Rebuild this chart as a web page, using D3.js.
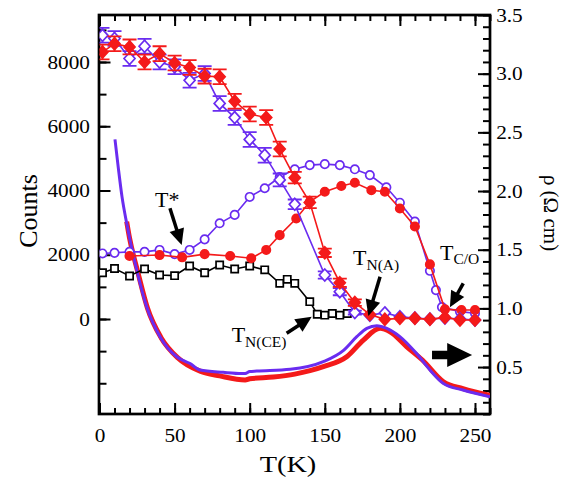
<!DOCTYPE html>
<html><head><meta charset="utf-8">
<script src="https://cdn.jsdelivr.net/npm/d3@7"></script>
<style>body{margin:0;background:#fff}svg{display:block}</style>
</head><body><svg id="c" width="574" height="480"></svg>
<script>
// ---- data ----
const tDiamondPurple=[2,10,20,30,40,50,60,70,80,90,100,110,120,130,150,160,170,180,190,200,210,220,230,240,250];
const cDiamondPurple=[8830,8730,8110,8490,8000,7850,7430,7640,6710,6270,5590,5100,4330,3570,1370,850,200,120,190,70,30,0,30,0,-30];
const eDiamondPurple=[230,230,230,230,230,230,230,230,230,230,230,230,200,150,110,110,60,0,0,0,0,0,0,0,0];

const tDiamondRed=[2,10,20,30,40,50,60,70,80,90,100,111,120,130,140,150,160,170,180,190,200,210,220,230,240,250];
const cDiamondRed=[8310,8570,8470,8000,8260,7970,7830,7560,7540,6780,6380,6270,5290,4400,3630,2060,1130,510,140,-10,20,20,-10,50,-30,-30];
const eDiamondRed=[230,230,230,230,230,230,230,230,230,230,230,230,230,180,180,130,130,100,0,0,0,0,0,0,0,0];

const tCirclePurple=[2,10,20,30,40,50,60,70,80,90,100,110,120,130,140,150,160,170,180,191,200,210,220,224,228,240,250];
const cCirclePurple=[2040,2060,2090,2090,2150,2020,2150,2480,2980,3240,3800,4070,4420,4660,4790,4820,4790,4660,4480,4100,3620,3030,1500,900,370,230,180];

const tCircleRed=[20,40,55,70,87,101,111,120,131,140,150,161,170,181,190,200,210,220,230,241,250];
const cCircleRed=[1960,1990,1920,2020,1960,1890,2150,2610,3130,3650,3960,4140,4240,4010,3960,3440,2880,1700,300,280,280];

const tSquare=[2,10,20,30,40,50,60,70,80,90,100,110,120,125,130,140,145,150,155,160,165];
const cSquare=[1440,1570,1340,1560,1370,1350,1650,1440,1680,1555,1650,1530,1110,1235,1110,540,150,120,170,120,170];

const tRhoPurple=[10.3,12.5,15,18.1,24.8,31.4,40.3,51.4,60.3,66.9,82.4,94.7,97,100,104.7,127,149,162.7,171.3,178,184.6,191.3,200,211,220,229,242,260];
const rhoPurple=[2.44,2.2,1.95,1.725,1.327,1.014,0.759,0.588,0.53,0.475,0.455,0.445,0.445,0.462,0.466,0.481,0.546,0.645,0.759,0.83,0.853,0.83,0.76,0.617,0.475,0.36,0.304,0.247];

const tRhoRed=[18.1,20,25.5,32,41,52,67,80,97,100,115.7,130,149,164.6,175.7,186.8,193.5,204.6,215,229,242,260];
const rhoRed=[1.74,1.6,1.31,1.0,0.75,0.58,0.465,0.425,0.39,0.4,0.415,0.44,0.503,0.588,0.73,0.83,0.80,0.673,0.56,0.375,0.317,0.26];

const xMajorTicks=[0,50,100,150,200,250];
const yCountTicks=[0,2000,4000,6000,8000];
const yRhoTicks=[0.5,1.0,1.5,2.0,2.5,3.0,3.5];

// ---- setup ----
const PURPLE="#6a2cf0", RED="#f41a1a";
const FONT="'Liberation Serif','Times New Roman',Times,serif";
const svg=d3.select("#c");
const L=99.5,R=490,T=15,B=414;
const x=d3.scaleLinear().domain([0,260]).range([L,R]);
const yC=d3.scaleLinear().domain([-2957,9463]).range([B,T]);
const yR=d3.scaleLinear().domain([0.1,3.5]).range([B,T]);

svg.append("defs").append("clipPath").attr("id","clip").append("rect")
  .attr("x",L).attr("y",T).attr("width",R-L).attr("height",B-T);

function styleAxis(g){
  g.select(".domain").remove();
  g.selectAll(".tick line").attr("stroke","#000").attr("stroke-width",2);
  g.selectAll("text").attr("font-family",FONT).attr("font-size",19).attr("fill","#000");
}
// bottom
svg.append("g").attr("transform",`translate(0,${B})`)
  .call(d3.axisBottom(x).tickValues(d3.range(0,261,10)).tickSize(-6).tickFormat("")).call(styleAxis);
svg.append("g").attr("transform",`translate(0,${B})`)
  .call(d3.axisBottom(x).tickValues(xMajorTicks).tickSize(-11).tickPadding(14.5).tickFormat(d3.format("d"))).call(styleAxis)
  .selectAll("text").attr("transform","scale(1.12,1)");
// top
svg.append("g").attr("transform",`translate(0,${T})`)
  .call(d3.axisTop(x).tickValues(d3.range(0,261,10)).tickSize(-6).tickFormat("")).call(styleAxis);
svg.append("g").attr("transform",`translate(0,${T})`)
  .call(d3.axisTop(x).tickValues(xMajorTicks).tickSize(-11).tickFormat("")).call(styleAxis);
// left
svg.append("g").attr("transform",`translate(${L},0)`)
  .call(d3.axisLeft(yC).tickValues(d3.range(-2000,9001,1000)).tickSize(-7).tickFormat("")).call(styleAxis);
svg.append("g").attr("transform",`translate(${L},0)`)
  .call(d3.axisLeft(yC).tickValues(yCountTicks).tickSize(-11).tickPadding(8.5).tickFormat(d3.format("d"))).call(styleAxis)
  .selectAll("text").attr("transform","scale(1.12,1)");
// right
svg.append("g").attr("transform",`translate(${R},0)`)
  .call(d3.axisRight(yR).tickValues(d3.range(1,36).map(d=>d/10)).tickSize(-7).tickFormat("")).call(styleAxis);
svg.append("g").attr("transform",`translate(${R},0)`)
  .call(d3.axisRight(yR).tickValues(yRhoTicks).tickSize(-12).tickPadding(5.5).tickFormat(d3.format(".1f"))).call(styleAxis)
  .selectAll("text").attr("transform","scale(1.12,1)");

// frame
svg.append("rect").attr("x",99).attr("y",T).attr("width",R-99).attr("height",B-T)
  .attr("fill","none").attr("stroke","#000").attr("stroke-width",2.7);

const plot=svg.append("g").attr("clip-path","url(#clip)");

// resistivity curves
const rhoLine=d3.line().x(d=>x(d[0])).y(d=>yR(d[1])).curve(d3.curveMonotoneX);
plot.append("path").attr("d",rhoLine(tRhoRed.map((t,i)=>[t,rhoRed[i]])))
  .attr("fill","none").attr("stroke",RED).attr("stroke-width",5);
plot.append("path").attr("d",rhoLine(tRhoPurple.map((t,i)=>[t,rhoPurple[i]])))
  .attr("fill","none").attr("stroke",PURPLE).attr("stroke-width",3);

const cLine=d3.line().x(d=>x(d[0])).y(d=>yC(d[1]));
function series(ts,cs,color,shape,fill,errs){
  const pts=ts.map((t,i)=>({t,c:cs[i],e:errs?errs[i]:0}));
  const g=plot.append("g");
  g.append("path").attr("d",cLine(pts.map(p=>[p.t,p.c]))).attr("fill","none")
    .attr("stroke",color).attr("stroke-width",1.6);
  if(errs){
    pts.filter(p=>p.e>0).forEach(p=>{
      const px=x(p.t), y1=yC(p.c-p.e), y2=yC(p.c+p.e);
      g.append("path").attr("d",`M${px},${y1}V${y2}M${px-7},${y1}H${px+7}M${px-7},${y2}H${px+7}`)
        .attr("stroke",color).attr("stroke-width",1.8).attr("fill","none");
    });
  }
  const shapes={
    diamond:"M0,-6L5.5,0L0,6L-5.5,0Z",
    circle:"M-4.2,0A4.2,4.2 0 1,0 4.2,0A4.2,4.2 0 1,0 -4.2,0Z",
    square:"M-3.6,-3.6H3.6V3.6H-3.6Z"
  };
  g.selectAll(".m").data(pts).enter().append("path")
    .attr("d",shapes[shape])
    .attr("transform",p=>`translate(${x(p.t)},${yC(p.c)})`)
    .attr("fill",fill?color:"#fff").attr("stroke",color).attr("stroke-width",1.7);
}
series(tSquare,cSquare,"#000","square",false);
series(tCirclePurple,cCirclePurple,PURPLE,"circle",false);
series(tCircleRed,cCircleRed,RED,"circle",true);
series(tDiamondPurple,cDiamondPurple,PURPLE,"diamond",false,eDiamondPurple);
series(tDiamondRed,cDiamondRed,RED,"diamond",true,eDiamondRed);

// ---- annotations (data coordinates) ----
const ann=svg.append("g");
function arrow(t1,c1,t2,c2){
  const x1=x(t1),y1=yC(c1),x2=x(t2),y2=yC(c2);
  const a=Math.atan2(y2-y1,x2-x1), hl=16, hw=7.5;
  const bx=x2-hl*Math.cos(a), by=y2-hl*Math.sin(a);
  ann.append("line").attr("x1",x1).attr("y1",y1).attr("x2",bx+2*Math.cos(a)).attr("y2",by+2*Math.sin(a))
    .attr("stroke","#000").attr("stroke-width",3.5);
  ann.append("path").attr("d",`M${x2},${y2}L${bx+hw*Math.sin(a)},${by-hw*Math.cos(a)}L${bx-hw*Math.sin(a)},${by+hw*Math.cos(a)}Z`)
    .attr("fill","#000");
}
function label(t,c,main,sub,dy){
  const tx=ann.append("text").attr("x",x(t)).attr("y",yC(c)).attr("font-family",FONT).attr("font-size",22).attr("fill","#000");
  tx.append("tspan").text(main);
  if(sub) tx.append("tspan").attr("dy",dy).attr("font-size",15.5).text(sub);
}
label(37,3500,"T*");
arrow(46.9,3446,54.7,2303);
label(168.8,1681,"T","N(A)",5);
arrow(186.8,1317,179,93);
label(226.7,1837,"T","C/O",4);
arrow(242.2,1111,233.3,364);
label(88,-716,"T","N(CE)",5);
arrow(124.6,-445,141.3,72);
// big right arrow
{
  const x0=x(221.4), x1=x(231.5), x2=x(248.1), yc=yC(-1120);
  ann.append("path").attr("d",`M${x0},${yc-4.2}H${x1}V${yc-12}L${x2},${yc}L${x1},${yc+12}V${yc+4.2}H${x0}Z`).attr("fill","#000");
}

// axis titles
svg.append("text").attr("transform","translate(37,211) rotate(-90)").attr("text-anchor","middle")
  .attr("font-family",FONT).attr("font-size",26).text("Counts");
svg.append("text").attr("transform","translate(288,472) scale(1.18,1)").attr("text-anchor","middle")
  .attr("font-family",FONT).attr("font-size",24).text("T(K)");
svg.append("text").attr("transform","translate(544,213) rotate(90)").attr("text-anchor","middle")
  .attr("font-family",FONT).attr("font-size",21).text("ρ (Ω cm)");
</script></body></html>
